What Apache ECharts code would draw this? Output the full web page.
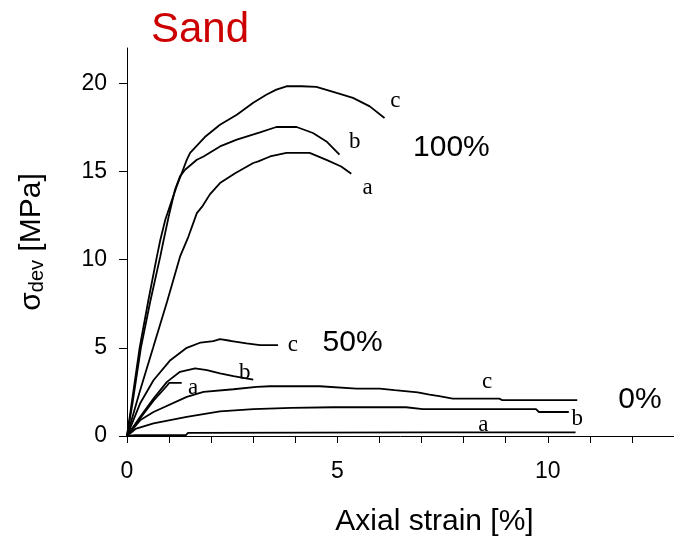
<!DOCTYPE html>
<html><head><meta charset="utf-8">
<script src="https://cdn.jsdelivr.net/npm/echarts@6/dist/echarts.min.js"></script>
<style>html,body{margin:0;padding:0;background:#fff}#c{width:674px;height:545px}</style>
</head><body><div id="c"></div>
<script>
// ---- data (strain %, deviatoric stress MPa) ----
const xLabelTicks = [0, 5, 10];
const yTicks = [0, 5, 10, 15, 20];

const x100c = [0,0.12,0.3,0.5,0.71,0.79,0.91,1.07,1.18,1.3,1.42,1.5,1.85,2.21,2.61,3.0,3.32,3.55,3.79,4.15,4.5,4.98,5.37,5.77,6.12];
const y100c = [0,2.0,5,7.6,10.17,11.1,12.26,13.39,14.15,14.9,15.66,16.05,16.95,17.65,18.22,18.9,19.36,19.64,19.83,19.83,19.8,19.45,19.17,18.69,18.03];

const x100b = [0,0.14,0.33,0.55,0.79,0.87,0.99,1.14,1.26,1.38,1.66,1.82,2.21,2.61,3.16,3.55,4.03,4.42,4.74,5.05];
const y100b = [0,2.0,5,7.6,10.17,11.1,12.44,13.96,14.72,15.1,15.66,15.85,16.42,16.8,17.22,17.52,17.52,17.18,16.7,15.95];

const x100a = [0,0.3,0.62,0.95,1.26,1.46,1.66,1.8,1.97,2.21,2.57,3.0,3.12,3.4,3.79,4.34,4.74,5.09,5.33];
const y100a = [0,2.5,5,7.6,10.17,11.31,12.64,13.05,13.7,14.34,14.9,15.48,15.57,15.85,16.05,16.05,15.66,15.28,14.87];

const x50c = [0,0.31,0.63,1.03,1.42,1.75,2.05,2.21,2.45,2.84,3.16,3.59];
const y50c = [0,1.84,3.16,4.3,5.0,5.3,5.38,5.49,5.4,5.25,5.15,5.15];

const x50b = [0,0.31,0.63,0.95,1.26,1.62,1.9,2.21,2.53,3.0];
const y50b = [0,1.08,2.12,3.07,3.64,3.83,3.73,3.55,3.39,3.2];

const x50a = [0,0.31,0.63,0.95,1.0,1.3];
const y50a = [0,1.0,2.0,2.85,3.01,3.01];

const x0c = [0,0.31,0.63,1.42,1.82,2.53,3.08,3.4,4.58,5.45,6.0,6.36,6.91,7.19,7.42,7.74,8.85,8.92,10.7];
const y0c = [0,0.89,1.36,2.22,2.5,2.65,2.78,2.82,2.82,2.69,2.69,2.6,2.47,2.35,2.26,2.12,2.12,2.03,2.03];

const x0b = [0,0.2,0.63,1.42,2.21,3.0,3.9,4.9,6.63,7.03,9.72,9.79,10.5];
const y0b = [0,0.4,0.72,1.08,1.4,1.52,1.6,1.63,1.63,1.52,1.52,1.36,1.36];

const x0a = [0,0.2,1.4,1.45,7.0,10.66];
const y0a = [0,0.05,0.05,0.18,0.2,0.2];

// curve letters
const letterText = ['c','b','a','c','b','a','c','b','a'];
const letterX = [6.38,5.41,5.72,3.94,2.80,1.57,8.56,10.70,8.47];
const letterY = [19.0,16.7,14.05,5.15,3.6,2.75,3.05,0.95,0.6];

// group labels
const groupText = ['100%','50%','0%'];
const groupX = [7.71,5.36,12.19];
const groupY = [16.35,5.27,2.03];

// ---- build ----
const curves = [[x100c,y100c],[x100b,y100b],[x100a,y100a],[x50c,y50c],[x50b,y50b],[x50a,y50a],[x0c,y0c],[x0b,y0b],[x0a,y0a]];
const zip = (xs, ys) => xs.map((x, i) => [x, ys[i]]);

const SANS = 'Liberation Sans, Arial, sans-serif';
const SERIF = 'Liberation Serif, Times New Roman, serif';

const series = curves.map(([xs, ys]) => ({
  type: 'line', data: zip(xs, ys), showSymbol: false, symbol: 'none',
  lineStyle: { color: '#000', width: 1.8 }, silent: true, z: 2
}));

const labelSeries = (texts, xs, ys, font, size) => ({
  type: 'scatter', symbolSize: 0, silent: true, z: 3,
  itemStyle: { opacity: 1, color: '#000' },
  data: texts.map((t, i) => ({ name: t, value: [xs[i], ys[i]] })),
  label: { show: true, position: 'inside', formatter: '{b}', color: '#000', opacity: 1,
           textBorderWidth: 0, fontFamily: font, fontSize: size }
});
series.push(labelSeries(letterText, letterX, letterY, SERIF, 23));
series.push(labelSeries(groupText, groupX, groupY, SANS, 30));

const chart = echarts.init(document.getElementById('c'), null, { renderer: 'canvas' });
chart.setOption({
  animation: false,
  backgroundColor: '#fff',
  title: {
    text: 'Sand', left: 151, top: 9, padding: 0,
    textStyle: { color: '#cc0000', fontSize: 42, fontWeight: 'normal', fontFamily: SANS }
  },
  grid: { left: 127, right: -1, top: 48, bottom: 109, containLabel: false },
  xAxis: {
    type: 'value', min: 0, max: 13, interval: 1,
    name: 'Axial strain [%]', nameLocation: 'middle', nameGap: 71,
    nameTextStyle: { color: '#000', fontSize: 30, fontFamily: SANS, padding: [0, 0, 0, 68] },
    axisLine: { show: true, onZero: false, lineStyle: { color: '#000', width: 1 } },
    axisTick: { show: true, inside: false, length: 7, lineStyle: { color: '#000' } },
    axisLabel: { customValues: xLabelTicks, margin: 24, color: '#000', fontSize: 23, fontFamily: SANS },
    splitLine: { show: false }
  },
  yAxis: {
    type: 'value', min: 0, max: 22,
    name: '{s|σ}{d|dev}{n| [MPa]}', nameLocation: 'middle', nameGap: 80, nameRotate: 90,
    nameTextStyle: {
      color: '#000', fontFamily: SANS,
      rich: {
        s: { fontSize: 30, fontFamily: SANS, color: '#000' },
        d: { fontSize: 20, fontFamily: SANS, color: '#000', verticalAlign: 'bottom', padding: [8, 0, 0, 0] },
        n: { fontSize: 30, fontFamily: SANS, color: '#000' }
      }
    },
    axisLine: { show: true, lineStyle: { color: '#000', width: 1 } },
    axisTick: { show: true, inside: false, length: 8, customValues: yTicks, lineStyle: { color: '#000' } },
    axisLabel: { customValues: yTicks, margin: 20, color: '#000', fontSize: 23, fontFamily: SANS },
    splitLine: { show: false }
  },
  series
});
</script>
</body></html>
